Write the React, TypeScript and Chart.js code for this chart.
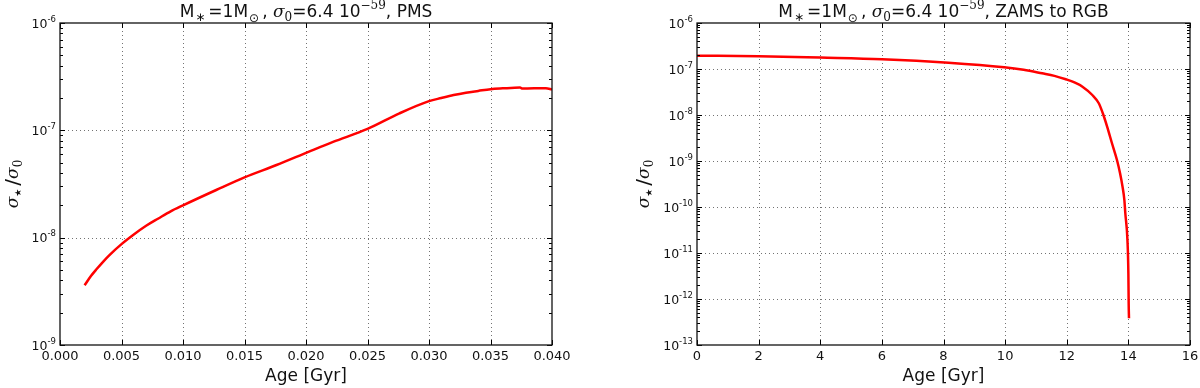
import React, { useEffect, useRef } from 'react';
import { Chart, registerables } from 'chart.js';

Chart.register(...registerables);

// ---------- data ----------
const pmsAge = [0.002, 0.0025, 0.003, 0.0035, 0.004, 0.005, 0.006, 0.007, 0.008, 0.009, 0.010, 0.0127, 0.015, 0.0176, 0.0202, 0.0222, 0.025, 0.0276, 0.030, 0.031, 0.032, 0.033, 0.034, 0.035, 0.036, 0.0374, 0.0376, 0.0395, 0.040];
const pmsSigma = [3.6e-9, 4.37e-9, 5.13e-9, 5.96e-9, 6.84e-9, 8.7e-9, 1.07e-8, 1.29e-8, 1.51e-8, 1.76e-8, 2.0e-8, 2.78e-8, 3.65e-8, 4.75e-8, 6.3e-8, 7.8e-8, 1.03e-7, 1.44e-7, 1.87e-7, 2.0e-7, 2.13e-7, 2.24e-7, 2.33e-7, 2.42e-7, 2.46e-7, 2.5e-7, 2.45e-7, 2.47e-7, 2.4e-7];

const zamsAge = [0, 2, 4, 6, 8.16, 9.97, 10.6, 11.2, 11.6, 11.97, 12.25, 12.51, 12.83, 13.04, 13.17, 13.31, 13.47, 13.63, 13.73, 13.81, 13.87, 13.9, 13.97, 14.0, 14.01, 14.02];
const zamsSigma = [1.95e-7, 1.9e-7, 1.77e-7, 1.63e-7, 1.37e-7, 1.09e-7, 9.6e-8, 8.05e-8, 7.1e-8, 5.97e-8, 5.1e-8, 4.13e-8, 2.72e-8, 1.8e-8, 1.09e-8, 5.6e-9, 2.4e-9, 1.05e-9, 5.4e-10, 2.77e-10, 1.42e-10, 7.4e-11, 1.9e-11, 3.6e-12, 8e-13, 3.8e-13];

const pmsXTicks = [0, 0.005, 0.01, 0.015, 0.02, 0.025, 0.03, 0.035, 0.04];
const pmsXTickLabels = ['0.000', '0.005', '0.010', '0.015', '0.020', '0.025', '0.030', '0.035', '0.040'];
const zamsXTicks = [0, 2, 4, 6, 8, 10, 12, 14, 16];
const zamsXTickLabels = ['0', '2', '4', '6', '8', '10', '12', '14', '16'];

const pmsYExp = [-6, -7, -8, -9];
const zamsYExp = [-6, -7, -8, -9, -10, -11, -12, -13];

const pmsTitleSuffix = 'PMS';
const zamsTitleSuffix = 'ZAMS to RGB';
const xAxisTitle = 'Age [Gyr]';

// ---------- drawing helpers ----------
type Seg = { t: string; size: number; dy?: number; dx?: number; family?: string; style?: string };

const SANS = '"DejaVu Sans"';
const SERIF = '"DejaVu Serif"';

function segFont(s: Seg) {
  return `${s.style ?? 'normal'} ${s.size}px ${s.family ?? SANS}`;
}

function measureRich(ctx: CanvasRenderingContext2D, segs: Seg[]) {
  let w = 0;
  for (const s of segs) {
    ctx.font = segFont(s);
    w += ctx.measureText(s.t).width + (s.dx ?? 0);
  }
  return w;
}

function drawRich(ctx: CanvasRenderingContext2D, segs: Seg[], x: number, y: number, align: 'left' | 'center' | 'right') {
  const w = measureRich(ctx, segs);
  let cx = align === 'center' ? x - w / 2 : align === 'right' ? x - w : x;
  ctx.textAlign = 'left';
  ctx.textBaseline = 'alphabetic';
  for (const s of segs) {
    ctx.font = segFont(s);
    cx += s.dx ?? 0;
    ctx.fillText(s.t, cx, y + (s.dy ?? 0));
    cx += ctx.measureText(s.t).width;
  }
}

function titleSegs(suffix: string): Seg[] {
  return [
    { t: 'M', size: 17 },
    { t: '∗', size: 12, dy: 4, dx: 1 },
    { t: '=1M', size: 17, dx: 3 },
    { t: '⊙', size: 12, dy: 5, dx: 1 },
    { t: ',', size: 17, dx: 3 },
    { t: ' ', size: 17 },
    { t: 'σ', size: 17, style: 'italic', family: SERIF },
    { t: '0', size: 12, dy: 4, family: SERIF },
    { t: '=6.4 10', size: 17 },
    { t: '−59', size: 12, dy: -8, family: SERIF },
    { t: ', ' + suffix, size: 17 },
  ];
}

const yTitleSegs: Seg[] = [
  { t: 'σ', size: 17, style: 'italic', family: SERIF },
  { t: '★', size: 9, dy: 3 },
  { t: '/', size: 20, dx: 3, dy: 1 },
  { t: 'σ', size: 17, style: 'italic', family: SERIF },
  { t: '0', size: 12, dy: 4, family: SERIF },
];

type Spec = {
  key: string;
  xs: number[];
  ys: number[];
  xMin: number;
  xMax: number;
  xTicks: number[];
  xTickLabels: string[];
  yExp: number[];
  yAxisWidth: number;
  padRight: number;
  yTitleX: number;
  titleSuffix: string;
};

const GRID = 'rgba(0,0,0,0.55)';

function makeDecor(spec: Spec) {
  return {
    id: 'decor-' + spec.key,
    beforeDatasetsDraw(chart: any) {
      const { ctx, chartArea: a, scales } = chart;
      const xs = scales.x;
      const ys = scales.y;
      ctx.save();
      ctx.strokeStyle = GRID;
      ctx.lineWidth = 1;
      ctx.setLineDash([1, 3]);
      for (const v of spec.xTicks) {
        const px = Math.round(xs.getPixelForValue(v)) + 0.5;
        if (px <= a.left + 1 || px >= a.right - 1) continue;
        ctx.beginPath();
        ctx.moveTo(px, a.top);
        ctx.lineTo(px, a.bottom);
        ctx.stroke();
      }
      for (const e of spec.yExp) {
        const py = Math.round(ys.getPixelForValue(Math.pow(10, e))) + 0.5;
        if (py <= a.top + 1 || py >= a.bottom - 1) continue;
        ctx.beginPath();
        ctx.moveTo(a.left, py);
        ctx.lineTo(a.right, py);
        ctx.stroke();
      }
      ctx.restore();
    },
    afterDatasetsDraw(chart: any) {
      const { ctx, chartArea: a, scales } = chart;
      const xs = scales.x;
      const ys = scales.y;
      ctx.save();
      ctx.setLineDash([]);
      ctx.strokeStyle = '#000';
      ctx.lineWidth = 1;
      // ticks
      ctx.beginPath();
      for (const v of spec.xTicks) {
        const px = Math.round(xs.getPixelForValue(v)) + 0.5;
        ctx.moveTo(px, a.bottom);
        ctx.lineTo(px, a.bottom - 5);
        ctx.moveTo(px, a.top);
        ctx.lineTo(px, a.top + 5);
      }
      const eMax = Math.max(...spec.yExp);
      const eMin = Math.min(...spec.yExp);
      for (let e = eMin; e <= eMax; e++) {
        const py = Math.round(ys.getPixelForValue(Math.pow(10, e))) + 0.5;
        ctx.moveTo(a.left, py);
        ctx.lineTo(a.left + 5, py);
        ctx.moveTo(a.right, py);
        ctx.lineTo(a.right - 5, py);
        if (e < eMax) {
          for (let k = 2; k <= 9; k++) {
            const pm = Math.round(ys.getPixelForValue(k * Math.pow(10, e))) + 0.5;
            ctx.moveTo(a.left, pm);
            ctx.lineTo(a.left + 3, pm);
            ctx.moveTo(a.right, pm);
            ctx.lineTo(a.right - 3, pm);
          }
        }
      }
      ctx.stroke();
      // frame
      ctx.lineWidth = 1.3;
      ctx.strokeStyle = '#111';
      ctx.strokeRect(a.left, a.top, a.right - a.left, a.bottom - a.top);

      ctx.fillStyle = '#111';
      // x tick labels
      ctx.font = `13px ${SANS}`;
      ctx.textAlign = 'center';
      ctx.textBaseline = 'alphabetic';
      spec.xTicks.forEach((v, i) => {
        const px = xs.getPixelForValue(v);
        ctx.fillText(spec.xTickLabels[i], px, a.bottom + 15);
      });
      // y tick labels
      for (const e of spec.yExp) {
        const py = ys.getPixelForValue(Math.pow(10, e));
        drawRich(ctx, [
          { t: '10', size: 12.5 },
          { t: String(e), size: 8.5, dy: -6 },
        ], a.left - 4, py + 4.5, 'right');
      }
      // title
      drawRich(ctx, titleSegs(spec.titleSuffix), (a.left + a.right) / 2, 17, 'center');
      // x axis title
      ctx.font = `17px ${SANS}`;
      ctx.textAlign = 'center';
      ctx.fillText(xAxisTitle, (a.left + a.right) / 2, 381);
      // y axis title
      ctx.save();
      ctx.translate(spec.yTitleX, (a.top + a.bottom) / 2);
      ctx.rotate(-Math.PI / 2);
      drawRich(ctx, yTitleSegs, 0, 0, 'center');
      ctx.restore();
      ctx.restore();
    },
  };
}

function makeConfig(spec: Spec): any {
  return {
    type: 'line',
    data: {
      datasets: [
        {
          data: spec.xs.map((x, i) => ({ x, y: spec.ys[i] })),
          borderColor: '#ff0000',
          borderWidth: 2.5,
          pointRadius: 0,
          tension: 0.3,
          cubicInterpolationMode: 'monotone',
          fill: false,
          borderJoinStyle: 'round',
        },
      ],
    },
    options: {
      animation: false,
      responsive: false,
      maintainAspectRatio: false,
      devicePixelRatio: 1,
      layout: { padding: { left: 0, right: spec.padRight, top: 23, bottom: 0 } },
      plugins: {
        legend: { display: false },
        tooltip: { enabled: false },
        title: { display: false },
      },
      scales: {
        x: {
          type: 'linear',
          min: spec.xMin,
          max: spec.xMax,
          ticks: { display: false },
          grid: { display: false },
          border: { display: false },
          afterFit: (s: any) => {
            s.height = 43;
          },
        },
        y: {
          type: 'logarithmic',
          min: Math.pow(10, Math.min(...spec.yExp)),
          max: Math.pow(10, Math.max(...spec.yExp)),
          ticks: { display: false },
          grid: { display: false },
          border: { display: false },
          afterFit: (s: any) => {
            s.width = spec.yAxisWidth;
          },
        },
      },
    },
    plugins: [makeDecor(spec)],
  };
}

const leftSpec: Spec = {
  key: 'pms',
  xs: pmsAge,
  ys: pmsSigma,
  xMin: 0,
  xMax: 0.04,
  xTicks: pmsXTicks,
  xTickLabels: pmsXTickLabels,
  yExp: pmsYExp,
  yAxisWidth: 60,
  padRight: 48,
  yTitleX: 17.5,
  titleSuffix: pmsTitleSuffix,
};

const rightSpec: Spec = {
  key: 'zams',
  xs: zamsAge,
  ys: zamsSigma,
  xMin: 0,
  xMax: 16,
  xTicks: zamsXTicks,
  xTickLabels: zamsXTickLabels,
  yExp: zamsYExp,
  yAxisWidth: 97,
  padRight: 10,
  yTitleX: 48.5,
  titleSuffix: zamsTitleSuffix,
};

export default function App() {
  const leftRef = useRef<HTMLCanvasElement>(null);
  const rightRef = useRef<HTMLCanvasElement>(null);
  useEffect(() => {
    const c1 = new Chart(leftRef.current as HTMLCanvasElement, makeConfig(leftSpec));
    const c2 = new Chart(rightRef.current as HTMLCanvasElement, makeConfig(rightSpec));
    return () => {
      c1.destroy();
      c2.destroy();
    };
  }, []);
  return (
    <div style={{ position: 'absolute', left: 0, top: 0, width: 1200, height: 388, display: 'flex', background: '#fff' }}>
      <canvas ref={leftRef} width={600} height={388} style={{ width: 600, height: 388, display: 'block' }} />
      <canvas ref={rightRef} width={600} height={388} style={{ width: 600, height: 388, display: 'block' }} />
    </div>
  );
}
